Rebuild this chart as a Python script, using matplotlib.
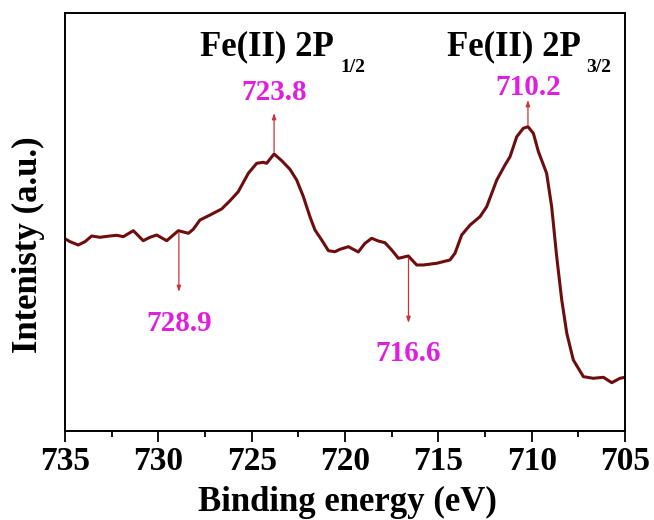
import matplotlib
matplotlib.use("Agg")
import matplotlib.pyplot as plt
from matplotlib.ticker import MultipleLocator

plt.rcParams["font.family"] = ["Liberation Serif", "DejaVu Serif"]
plt.rcParams["font.weight"] = "bold"

# Fe 2p XPS spectrum (binding energy in eV, intensity in a.u.)
binding_energy = [
    734.95, 734.73, 734.29, 733.93, 733.57, 733.13, 732.59, 732.23, 731.88, 731.34,
    730.81, 730.45, 730.09, 729.55, 728.93, 728.39, 728.13, 727.77, 727.23, 726.61,
    726.16, 725.72, 725.18, 724.73, 724.38, 724.20, 723.80, 723.39, 722.95, 722.59,
    722.23, 721.88, 721.61, 721.25, 720.89, 720.54, 720.27, 719.82, 719.29, 718.93,
    718.57, 718.22, 717.86, 717.50, 717.14, 716.61, 716.16, 715.80, 715.09, 714.38,
    714.11, 713.75, 713.30, 712.77, 712.41, 711.87, 711.43, 711.16, 710.80, 710.45,
    710.20, 709.91, 709.64, 709.20, 708.93, 708.66, 708.39, 708.12, 707.77, 707.23,
    706.70, 706.16, 705.71, 705.27, 705.00,
]
intensity = [
    191.7, 189.3, 186.0, 189.3, 195.0, 193.7, 195.0, 195.7, 194.3, 200.3,
    190.3, 193.7, 196.0, 190.3, 200.3, 197.7, 201.7, 211.0, 216.0, 222.0,
    230.3, 239.3, 257.7, 267.7, 268.7, 267.7, 277.0, 270.3, 261.7, 251.0,
    234.3, 214.3, 201.0, 191.0, 180.3, 179.3, 181.7, 184.3, 179.0, 187.7,
    192.7, 190.0, 188.3, 181.0, 172.7, 175.0, 166.0, 166.0, 167.7, 171.0,
    177.7, 196.0, 206.0, 214.3, 224.3, 251.0, 266.0, 274.3, 294.3, 302.7,
    304.3, 297.7, 279.3, 257.7, 224.3, 174.3, 131.0, 97.7, 71.0, 54.3,
    52.7, 53.7, 48.3, 52.7, 53.7,
]

# marked peaks: (energy, arrow tail, arrow head, label baseline)
peak_labels = ["723.8", "710.2", "728.9", "716.6"]
peak_energy = [723.8, 710.2, 728.9, 716.6]
arrow_tail = [279, 306, 198, 173]
arrow_head = [318, 331, 139, 108]
label_y = [331, 336, 100, 70]

fig = plt.figure(figsize=(6.54, 5.2), dpi=100)
ax = fig.add_axes([0.0994, 0.1712, 0.8563, 0.8038])

ax.plot(binding_energy, intensity, color="#6e0d0d", lw=2.2)

for lbl, e, t, h, y in zip(peak_labels, peak_energy, arrow_tail, arrow_head, label_y):
    ax.annotate("", xy=(e, h), xytext=(e, t),
                arrowprops=dict(arrowstyle="-|>,head_length=0.35,head_width=0.12",
                                color="#cc3333", lw=0.9, shrinkA=0, shrinkB=0))
    ax.text(e, y, lbl, color="#e01ee0", fontsize=21, fontweight="bold",
            ha="center", va="baseline")

# peak assignments
ax.text(727.77, 376, "Fe(II) 2P", fontsize=25, fontweight="bold", ha="left", va="baseline")
ax.text(720.25, 359, "1/2", fontsize=14, fontweight="bold", ha="left", va="baseline")
ax.text(714.54, 376, "Fe(II) 2P", fontsize=25, fontweight="bold", ha="left", va="baseline")
ax.text(707.1, 359, "3/2", fontsize=14, fontweight="bold", ha="left", va="baseline")

ax.set_xlim(735, 705)
ax.set_ylim(0, 418)
ax.xaxis.set_major_locator(MultipleLocator(5))
ax.xaxis.set_minor_locator(MultipleLocator(2.5))
ax.tick_params(axis="x", which="major", direction="out", length=8, width=1.3,
               labelsize=24, pad=3)
ax.tick_params(axis="x", which="minor", direction="out", length=4, width=1.3)
ax.set_yticks([])
for s in ax.spines.values():
    s.set_linewidth(1.4)

fig.text(0.532, 0.017, "Binding energy (eV)", fontsize=25, fontweight="bold",
         ha="center", va="baseline")
fig.text(0.043, 0.53, "Intenisty (a.u.)", fontsize=25, fontweight="bold",
         ha="center", va="center", rotation=90)

fig.savefig("out.png", dpi=100)
